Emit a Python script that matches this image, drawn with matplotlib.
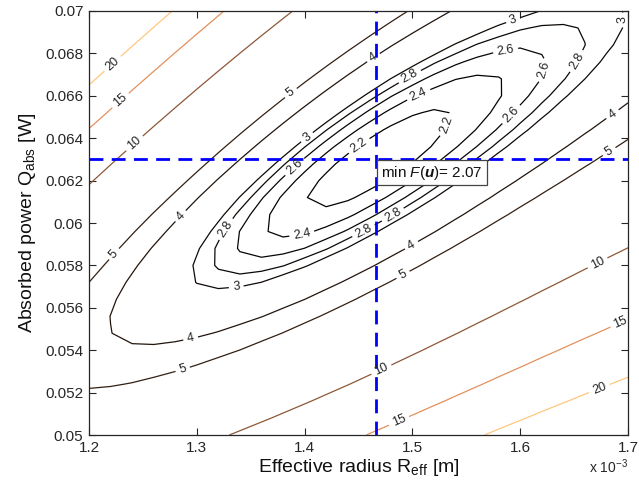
import matplotlib
matplotlib.use("Agg")
import matplotlib.pyplot as plt
import numpy as np

plt.rcParams["font.family"] = ["Liberation Sans", "DejaVu Sans"]
plt.rcParams["mathtext.fontset"] = "custom"
plt.rcParams["mathtext.rm"] = "Liberation Sans"
plt.rcParams["mathtext.it"] = "Liberation Sans:italic"
plt.rcParams["mathtext.bf"] = "Liberation Sans:bold"
plt.rcParams["mathtext.bfit"] = "Liberation Sans:bold:italic"

####################
## MODEL OF F(u)  ##
####################

# minimum of the cost function (blue crosshair)
R_MIN = 1.466e-3      # m
Q_MIN = 0.063         # W
F_MIN = 2.07

# valley shape
R_CENTER = 1.466e-3   # m
Q_CENTER = 0.06295    # W
VALLEY_SLOPE = 3.0    # mW per 0.1 mm
VALLEY_BEND = -0.04   # mW per (0.1 mm)^2
CURV_ALONG = 0.285    # per (0.1 mm)^2
ALONG_SOFT = 0.04     # along-valley growth slows far out
CURV_ACROSS = 0.0794  # per mW^2
SKEW = 0.13           # flatter towards upper right

levels = [2.2, 2.4, 2.6, 2.8, 3, 4, 5, 10, 15, 20]

r_grid = np.linspace(1.2e-3, 1.7e-3, 26)
q_grid = np.linspace(0.05, 0.07, 26)

x_ticks = [1.2e-3, 1.3e-3, 1.4e-3, 1.5e-3, 1.6e-3, 1.7e-3]
y_ticks = [0.05, 0.052, 0.054, 0.056, 0.058, 0.06, 0.062, 0.064, 0.066, 0.068, 0.07]

# where the inline labels sit (R [m], Q [W])
label_spots = [
    (1.2148e-3, 0.06792), (1.2223e-3, 0.06618), (1.238e-3, 0.0640),
    (1.3865e-3, 0.06618), (1.4635e-3, 0.06783), (1.593e-3, 0.06965),
    (1.687e-3, 0.06958), (1.4978e-3, 0.06689), (1.586e-3, 0.0683),
    (1.6277e-3, 0.06712), (1.6536e-3, 0.0676), (1.505e-3, 0.06615),
    (1.586e-3, 0.06542), (1.4514e-3, 0.06358), (1.542e-3, 0.06448),
    (1.683e-3, 0.06533), (1.680e-3, 0.06358), (1.402e-3, 0.06406),
    (1.391e-3, 0.06264), (1.4533e-3, 0.05976), (1.481e-3, 0.06047),
    (1.3976e-3, 0.05943), (1.328e-3, 0.05967), (1.337e-3, 0.05675),
    (1.2955e-3, 0.05425), (1.289e-3, 0.05274), (1.2223e-3, 0.05858),
    (1.289e-3, 0.06014), (1.5006e-3, 0.05882), (1.493e-3, 0.0574),
    (1.4727e-3, 0.05292), (1.490e-3, 0.05038), (1.6694e-3, 0.05835),
    (1.690e-3, 0.05566), (1.671e-3, 0.0525),
]

RR, QQ = np.meshgrid(r_grid, q_grid)
r = (RR - R_CENTER) / 1e-4
q = (QQ - Q_CENTER) / 1e-3
t = q - VALLEY_SLOPE * r - VALLEY_BEND * r**2
along = CURV_ALONG * r**2 / (1 + ALONG_SOFT * r**2)
F = F_MIN + np.exp(-SKEW * r) * (along + CURV_ACROSS * t**2)

###########
## PLOT  ##
###########

fig = plt.figure(figsize=(6.39, 4.90), dpi=100)
ax = fig.add_axes([89 / 639, 1 - 435 / 490, (628 - 89) / 639, (435 - 11) / 490])

cs = ax.contour(RR, QQ, F, levels=levels, cmap="copper", vmin=F_MIN, vmax=20,
                linewidths=0.9)
ax.clabel(cs, fmt="%g", fontsize=9, colors="#222222", inline=True,
          inline_spacing=4, manual=label_spots)

ax.axvline(R_MIN, color=(0, 0, 1), lw=2, linestyle=(0, (5, 3)))
ax.axhline(Q_MIN, color=(0, 0, 1), lw=2, linestyle=(0, (5, 3)))

ax.text(R_MIN + 0.005e-3, Q_MIN - 0.0002, r"min $\mathit{F}(\mathbfit{u})$= 2.07",
        fontsize=11, ha="left", va="top", color="#111111",
        bbox=dict(boxstyle="square,pad=0.25", fc="white", ec="#444444", lw=0.9))

ax.set_xlim(1.2e-3, 1.7e-3)
ax.set_ylim(0.05, 0.07)
ax.set_xticks(x_ticks)
ax.set_xticklabels(["%g" % (v * 1e3) for v in x_ticks])
ax.set_yticks(y_ticks)
ax.set_yticklabels(["%g" % v for v in y_ticks])
ax.tick_params(direction="in", length=5, width=0.8, top=True, right=True,
               labelsize=11, colors="#262626", pad=4)
for s in ax.spines.values():
    s.set_color("#262626")
    s.set_linewidth(0.9)

ax.set_xlabel(r"Effective radius R$_{\rm eff}$ [m]", fontsize=14, color="#111111", labelpad=2)
ax.set_ylabel(r"Absorbed power Q$_{\rm abs}$ [W]", fontsize=14, color="#111111", labelpad=5)
fig.text(608 / 639, 1 - 467 / 490, r"x 10$^{-3}$", fontsize=10, ha="center", va="center",
         color="#262626")

plt.savefig("out.png", dpi=100)
